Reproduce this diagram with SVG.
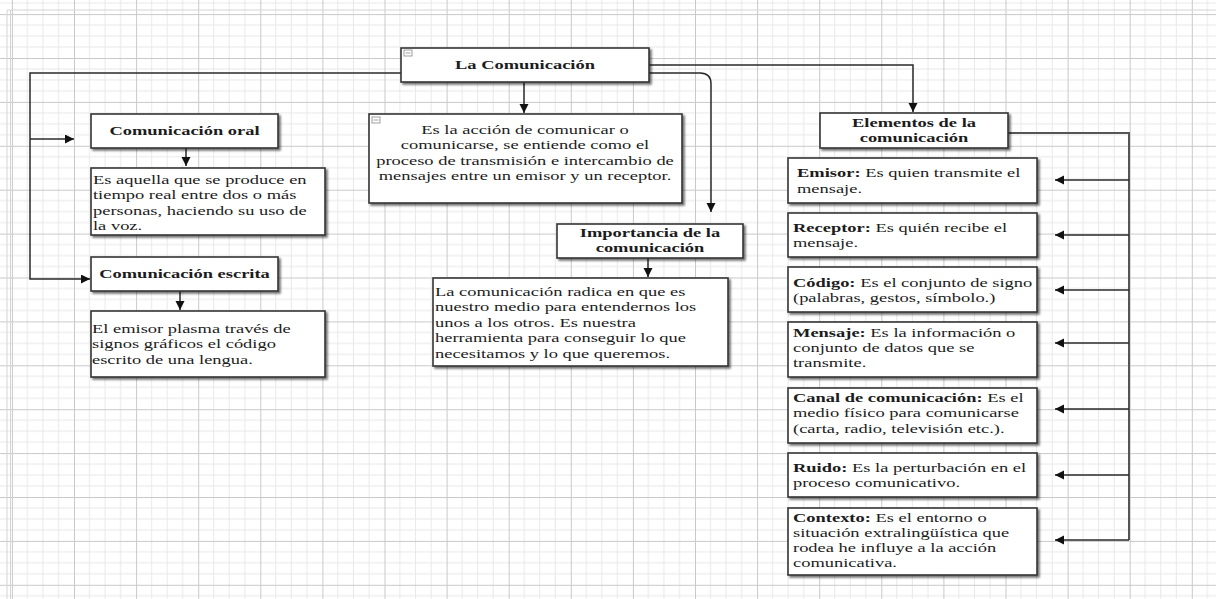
<svg xmlns="http://www.w3.org/2000/svg" width="1216" height="599" viewBox="0 0 1216 599">
<defs>
<pattern id="grid" patternUnits="userSpaceOnUse" x="11.9" y="14.1" width="62.1" height="43.9">
<path d="M15.5,0V43.9M31,0V43.9M46.6,0V43.9M0,11H62.1M0,22H62.1M0,33H62.1" stroke="#e8e8e8" stroke-width="1" fill="none"/>
<path d="M0.5,0V43.9M0,0.5H62.1" stroke="#c9c9c9" stroke-width="1" fill="none"/>
</pattern>
<marker id="ah" markerUnits="userSpaceOnUse" markerWidth="10" markerHeight="10" refX="9" refY="4.5" orient="auto">
<path d="M0,0L9,4.5L0,9z" fill="#111"/>
</marker>
<filter id="sh" x="-5%" y="-10%" width="115%" height="130%">
<feOffset dx="2" dy="2" in="SourceAlpha" result="o"/>
<feGaussianBlur in="o" stdDeviation="1" result="b"/>
<feComponentTransfer in="b" result="c"><feFuncA type="linear" slope="0.55"/></feComponentTransfer>
<feMerge><feMergeNode in="c"/><feMergeNode in="SourceGraphic"/></feMerge>
</filter>
</defs>
<style>
.box{fill:#fff;stroke:#333;stroke-width:1.6;filter:url(#sh)}
.t{font-family:"Liberation Serif","Times New Roman",serif;font-size:13px;fill:#1c1c1c}
.b{font-weight:bold}
.c{text-anchor:middle}
.ln{fill:none;stroke:#2a2a2a;stroke-width:1.5}
.ar{marker-end:url(#ah)}
.ic{fill:#fff;stroke:#888;stroke-width:0.8}
</style>
<rect width="1216" height="599" fill="#fff"/>
<rect x="0" y="0" width="1216" height="599" fill="url(#grid)"/>
<path d="M7,10V599M10.5,10V599M7,10H1216" stroke="#d4d4d4" stroke-width="1" fill="none"/>

<g id="connectors">
<path class="ln ar" d="M401,73H30V279H90"/>
<path class="ln ar" d="M30,139H74"/>
<path class="ln ar" d="M524,82V113"/>
<path class="ln ar" d="M649,73H700Q711,73 711,84V212"/>
<path class="ln ar" d="M649,65H913V112"/>
<path class="ln ar" d="M186,148V166"/>
<path class="ln ar" d="M180,291V310"/>
<path class="ln ar" d="M648,258V277"/>
<path class="ln" d="M1008,133H1129V540" style="stroke:#555;stroke-width:2"/>
<path class="ln ar" d="M1129,180H1055"/>
<path class="ln ar" d="M1129,235H1055"/>
<path class="ln ar" d="M1129,290H1055"/>
<path class="ln ar" d="M1129,343H1055"/>
<path class="ln ar" d="M1129,409H1055"/>
<path class="ln ar" d="M1129,475H1055"/>
<path class="ln ar" d="M1129,540H1055"/>
</g>

<g id="la-comunicacion">
<rect class="box" x="401" y="48" width="248" height="34"/>
<rect class="ic" x="404" y="50" width="8" height="6"/>
<path d="M405.5,53H410.5" stroke="#888" stroke-width="0.8"/>
<g transform="translate(525,69) scale(1.42,1)"><text class="t b c">La Comunicación</text></g>
</g>

<g id="comunicacion-oral">
<rect class="box" x="91" y="114" width="187" height="34"/>
<g transform="translate(184.5,135) scale(1.42,1)"><text class="t b c">Comunicación oral</text></g>
</g>

<g id="oral-desc">
<rect class="box" x="91" y="168" width="234" height="67"/>
<g transform="translate(93,184) scale(1.42,1)"><text class="t"><tspan x="0" y="0">Es aquella que se produce en</tspan><tspan x="0" y="15.5">tiempo real entre dos o más</tspan><tspan x="0" y="31">personas, haciendo su uso de</tspan><tspan x="0" y="46.5">la voz.</tspan></text></g>
</g>

<g id="comunicacion-escrita">
<rect class="box" x="91" y="257" width="187" height="34"/>
<g transform="translate(184.5,278) scale(1.42,1)"><text class="t b c">Comunicación escrita</text></g>
</g>

<g id="escrita-desc">
<rect class="box" x="91" y="311" width="234" height="66"/>
<g transform="translate(92,333) scale(1.42,1)"><text class="t"><tspan x="0" y="0">El emisor plasma través de</tspan><tspan x="0" y="15.5">signos gráficos el código</tspan><tspan x="0" y="31">escrito de una lengua.</tspan></text></g>
</g>

<g id="definicion">
<rect class="box" x="369" y="114" width="313" height="89"/>
<rect class="ic" x="372" y="117" width="8" height="6"/>
<path d="M373.5,120H378.5" stroke="#888" stroke-width="0.8"/>
<g transform="translate(525,134) scale(1.42,1)"><text class="t c"><tspan x="0" y="0">Es la acción de comunicar o</tspan><tspan x="0" y="15.5">comunicarse, se entiende como el</tspan><tspan x="0" y="31">proceso de  transmisión e intercambio de</tspan><tspan x="0" y="46.5">mensajes entre un emisor y un receptor.</tspan></text></g>
</g>

<g id="importancia">
<rect class="box" x="557" y="224" width="186" height="34"/>
<g transform="translate(650,237) scale(1.42,1)"><text class="t b c"><tspan x="0" y="0">Importancia de la</tspan><tspan x="0" y="15">comunicación</tspan></text></g>
</g>

<g id="importancia-desc">
<rect class="box" x="433" y="278" width="295" height="88"/>
<g transform="translate(435,296) scale(1.42,1)"><text class="t"><tspan x="0" y="0">La comunicación radica en que es</tspan><tspan x="0" y="15.5">nuestro medio para entendernos los</tspan><tspan x="0" y="31">unos a los otros. Es nuestra</tspan><tspan x="0" y="46.5">herramienta para conseguir lo que</tspan><tspan x="0" y="62">necesitamos y lo que queremos.</tspan></text></g>
</g>

<g id="elementos">
<rect class="box" x="820" y="113" width="188" height="35"/>
<g transform="translate(914,127) scale(1.42,1)"><text class="t b c"><tspan x="0" y="0">Elementos de la</tspan><tspan x="0" y="15.5">comunicación</tspan></text></g>
</g>

<g id="emisor">
<rect class="box" x="788" y="158" width="249" height="45"/>
<g transform="translate(797,177) scale(1.42,1)"><text class="t"><tspan x="0" y="0"><tspan class="b">Emisor:</tspan> Es quien transmite el</tspan><tspan x="0" y="16">mensaje.</tspan></text></g>
</g>

<g id="receptor">
<rect class="box" x="788" y="213" width="249" height="44"/>
<g transform="translate(793,232) scale(1.42,1)"><text class="t"><tspan x="0" y="0"><tspan class="b">Receptor:</tspan> Es quién recibe el</tspan><tspan x="0" y="15.5">mensaje.</tspan></text></g>
</g>

<g id="codigo">
<rect class="box" x="788" y="267" width="249" height="45"/>
<g transform="translate(793,287) scale(1.42,1)"><text class="t"><tspan x="0" y="0"><tspan class="b">Código:</tspan> Es el conjunto de signo</tspan><tspan x="0" y="15">(palabras, gestos, símbolo.)</tspan></text></g>
</g>

<g id="mensaje">
<rect class="box" x="788" y="322" width="249" height="55"/>
<g transform="translate(793,337) scale(1.42,1)"><text class="t"><tspan x="0" y="0"><tspan class="b">Mensaje:</tspan> Es la información o</tspan><tspan x="0" y="15">conjunto de datos que se</tspan><tspan x="0" y="30">transmite.</tspan></text></g>
</g>

<g id="canal">
<rect class="box" x="788" y="388" width="249" height="55"/>
<g transform="translate(793,402) scale(1.42,1)"><text class="t"><tspan x="0" y="0"><tspan class="b">Canal de comunicación:</tspan> Es el</tspan><tspan x="0" y="15.5">medio físico para comunicarse</tspan><tspan x="0" y="31">(carta, radio, televisión etc.).</tspan></text></g>
</g>

<g id="ruido">
<rect class="box" x="788" y="453" width="249" height="44"/>
<g transform="translate(793,472) scale(1.42,1)"><text class="t"><tspan x="0" y="0"><tspan class="b">Ruido:</tspan> Es la perturbación en el</tspan><tspan x="0" y="15">proceso comunicativo.</tspan></text></g>
</g>

<g id="contexto">
<rect class="box" x="788" y="508" width="249" height="67"/>
<g transform="translate(793,522) scale(1.42,1)"><text class="t"><tspan x="0" y="0"><tspan class="b">Contexto:</tspan> Es el entorno o</tspan><tspan x="0" y="15">situación extralingüística que</tspan><tspan x="0" y="30">rodea he influye a la acción</tspan><tspan x="0" y="45.5">comunicativa.</tspan></text></g>
</g>
</svg>
